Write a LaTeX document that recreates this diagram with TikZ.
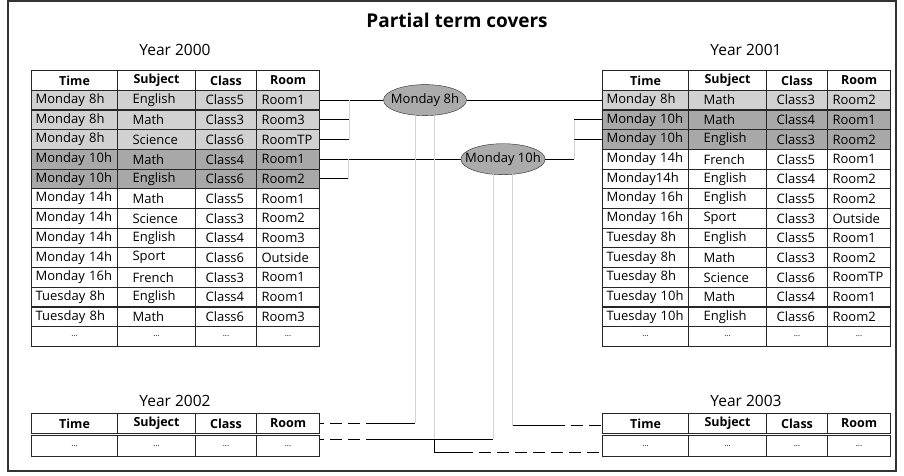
\documentclass[tikz,border=0pt]{standalone}
\usepackage{fontspec}
\setmainfont{Open Sans}
\usetikzlibrary{shapes.geometric}
\definecolor{shadeA}{gray}{0.82}
\definecolor{shadeB}{gray}{0.66}

\begin{document}
\begin{tikzpicture}[x=1pt,y=-1pt,font=\fontsize{13}{15}\selectfont,
	cell/.style={draw=black!85,line width=1.1pt,anchor=north west,inner ysep=0pt,minimum height=19.7,align=left},
	head/.style={cell,font=\fontsize{12.5}{15}\selectfont\bfseries,align=center},
	dots/.style={cell,font=\fontsize{8}{9}\selectfont,align=center},
	oval/.style={ellipse,draw=black!85,fill=black!33,minimum width=83pt,minimum height=31pt,inner xsep=-8pt,inner ysep=0pt},
	link/.style={line width=0.9pt},
	ghost/.style={black!17,line width=0.9pt},
	gap/.style={link,dash pattern=on 12pt off 6pt}]
	\useasboundingbox (0,0) rectangle (904,475);
	\draw[line width=1.5pt,black!80] (8,1) rectangle (896,471);
	\node[font=\fontsize{19}{22}\selectfont\bfseries] (title) at (457,20) {Partial term covers};
	
	% labels of the years
	\foreach \nm/\px/\py/\yr in {y0/175/50/2000,y1/746/50/2001,y2/175/401/2002,y3/746/401/2003}
	\node[font=\fontsize{15.5}{18}\selectfont] (\nm) at (\px,\py) {Year \yr};
	
	% header rows
	\foreach \tb/\x/\y in {L/31/70,R/602/70,Y2/31/413,Y3/602/413}
	\foreach \c/\o/\w/\txt in {1/0/86/Time,2/86/78/Subject,3/164/61/Class,4/225/63/Room}
	\node[head,minimum width=\w] (\tb-0-\c) at (\x+\o,\y) {\txt};
	
	% year 2000
	\foreach \fl/\vA/\vB/\vC/\vD [count=\r] in {shadeA/Monday 8h/English/Class5/Room1,shadeA/Monday 8h/Math/Class3/Room3,
		shadeA/Monday 8h/Science/Class6/RoomTP,shadeB/Monday 10h/Math/Class4/Room1,shadeB/Monday 10h/English/Class6/Room2,
		white/Monday 14h/Math/Class5/Room1,white/Monday 14h/Science/Class3/Room2,white/Monday 14h/English/Class4/Room3,
		white/Monday 14h/Sport/Class6/Outside,white/Monday 16h/French/Class3/Room1,white/Tuesday 8h/English/Class4/Room1,
		white/Tuesday 8h/Math/Class6/Room3}
	\foreach \c/\o/\w/\p/\txt in {1/0/86/4/\vA,2/86/78/15/\vB,3/164/61/10/\vC,4/225/63/5/\vD}{
		\pgfmathsetmacro\tw{\w-2*\p}
		\node[cell,fill=\fl,inner xsep=\p,text width=\tw pt] (L-\r-\c) at (31+\o,70+19.7*\r) {\txt};
	}
	
	% year 2001
	\foreach \fl/\vA/\vB/\vC/\vD [count=\r] in {shadeA/Monday 8h/Math/Class3/Room2,shadeB/Monday 10h/Math/Class4/Room1,
		shadeB/Monday 10h/English/Class3/Room2,white/Monday 14h/French/Class5/Room1,white/Monday14h/English/Class4/Room2,
		white/Monday 16h/English/Class5/Room2,white/Monday 16h/Sport/Class3/Outside,white/Tuesday 8h/English/Class5/Room1,
		white/Tuesday 8h/Math/Class3/Room2,white/Tuesday 8h/Science/Class6/RoomTP,white/Tuesday 10h/Math/Class4/Room1,
		white/Tuesday 10h/English/Class6/Room2}
	\foreach \c/\o/\w/\p/\txt in {1/0/86/4/\vA,2/86/78/15/\vB,3/164/61/10/\vC,4/225/63/5/\vD}{
		\pgfmathsetmacro\tw{\w-2*\p}
		\node[cell,fill=\fl,inner xsep=\p,text width=\tw pt] (R-\r-\c) at (602+\o,70+19.7*\r) {\txt};
	}
	
	% rows with dots
	\foreach \tb/\x/\y/\h in {L/31/326.1/19.7,R/602/326.1/19.7,Y2/31/434.5/21.5,Y3/602/434.5/21.5}
	\foreach \c/\o/\w in {1/0/86,2/86/78,3/164/61,4/225/63}
	\node[dots,minimum width=\w,minimum height=\h] (\tb-e-\c) at (\x+\o,\y) {...};
	
	\node[oval] (e8) at (425,0 |- L-1-4) {Monday 8h};
	\node[oval] (e10) at (503,0 |- L-4-4) {Monday 10h};
	
	% links between the years
	\draw[link] (L-1-4.east) -- (e8) -- (R-1-1.west);
	\draw[link] (L-4-4.east) -- (e10) -- (574,0 |- e10) coordinate (k3);
	\coordinate (k1) at (349,0 |- L-1-4);
	\coordinate (k2) at (348,0 |- L-4-4);
	\draw[ghost] (k1) -- (k1 |- L-3-4) (k2) -- (k2 |- L-5-4) (k3) -- (k3 |- R-2-1);
	\draw[link] (L-2-4.east) -- (L-2-4.east -| k1) (L-3-4.east) -- (L-3-4.east -| k1) (L-5-4.east) -- (L-5-4.east -| k2);
	\draw[link] (R-2-1.west) -- (R-2-1.west -| k3) (R-3-1.west) -- (R-3-1.west -| k3);
	
	\coordinate (v1) at (e8.-123 |- Y2-0-4);
	\coordinate (v2) at (e8.-57 |- 0,439);
	\coordinate (v3) at (e10.-123 |- 0,439);
	\coordinate (v4) at (e10.-57 |- 0,425.5);
	\draw[ghost] (e8.-123) -- (v1) (e8.-57) -- (v2) (e10.-123) -- (v3) (e10.-57) -- (v4);
	\draw[link] (v1) -- (378,0 |- v1) coordinate (w1);
	\draw[gap] (w1) -- (Y2-0-4.east);
	\draw[link] (v3) -- (378,439) coordinate (w2);
	\draw[gap] (w2) -- (w2 -| Y2-e-4.east);
	\draw[link] (v4) -- (553,0 |- v4) coordinate (w3);
	\draw[gap] (w3) -- (w3 -| Y3-0-1.west);
	\draw[link] (v2) -- (v2 |- 0,452) coordinate (w4) -- ++(26,0) coordinate (w5);
	\draw[gap] (w5) -- (w5 -| Y3-e-1.west);
\end{tikzpicture}
\end{document}
